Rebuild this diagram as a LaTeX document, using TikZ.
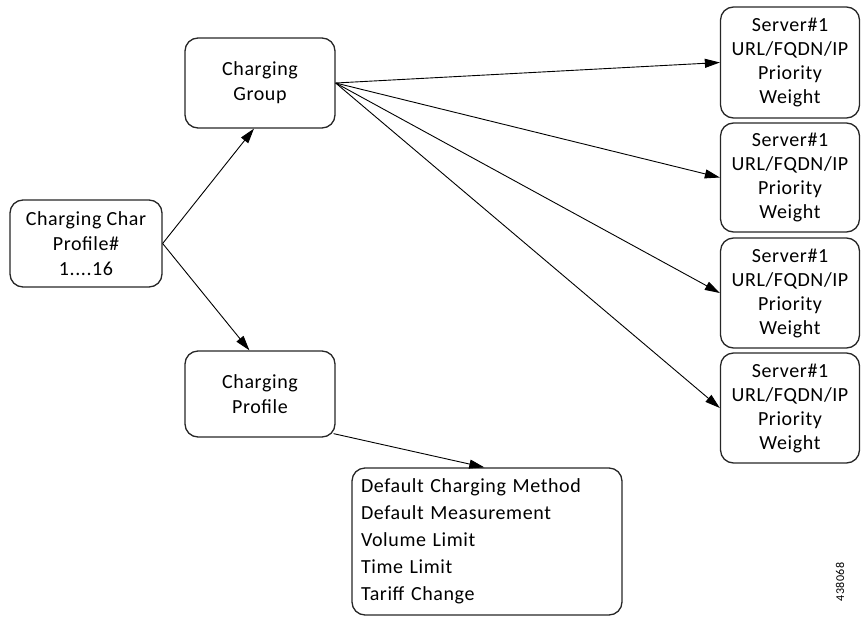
\documentclass[tikz,border=0pt]{standalone}
\usepackage{fontspec}
\setmainfont{Carlito}[LetterSpace=3]
\usetikzlibrary{arrows.meta,calc}
\begin{document}
\begin{tikzpicture}[x=1pt,y=-1pt,
  box/.style={draw=black!85,line width=1.3pt,rounded corners=13pt,align=center,font=\fontsize{20}{25}\selectfont,inner sep=0pt},
  srv/.style={box,minimum width=139pt,font=\fontsize{20}{24}\selectfont},
  conn/.style={draw=black,line width=0.9pt,-{Triangle[length=15pt,width=9pt]}}]
\useasboundingbox (0,0) rectangle (861,618);
\node[box,minimum width=152pt,minimum height=87pt] (char) at (86,243.5) {Charging Char\\Profile\#\\1....16};
\node[box,minimum width=150pt,minimum height=90pt] (group) at (260,83) {Charging\\Group};
\node[box,minimum width=150pt,minimum height=86pt] (profile) at (260,394) {Charging\\Profile};
\node[srv,minimum height=111pt] (s1) at (790,62.5) {Server\#1\\URL/FQDN/IP\\Priority\\Weight};
\node[srv,minimum height=109pt] (s2) at (790,177.5) {Server\#1\\URL/FQDN/IP\\Priority\\Weight};
\node[srv,minimum height=110pt] (s3) at (790,293) {Server\#1\\URL/FQDN/IP\\Priority\\Weight};
\node[srv,minimum height=110pt] (s4) at (790,408) {Server\#1\\URL/FQDN/IP\\Priority\\Weight};
\node[box,minimum width=270pt,minimum height=147pt,align=left,text width=252pt,font=\fontsize{20}{27}\selectfont] (dflt) at (487,541.5) {Default Charging Method\\Default Measurement\\Volume Limit\\Time Limit\\Tariff Change};
\node[rotate=90,font=\fontsize{12}{14}\selectfont] (id) at (840,582) {438068};
\draw[conn] (char.east) -- ($(group.south west)!0.46!(group.south east)$);
\draw[conn] (char.east) -- ($(profile.north west)!0.43!(profile.north east)$);
\draw[conn] (group.east) -- (s1.west);
\draw[conn] (group.east) -- (s2.west);
\draw[conn] (group.east) -- (s3.west);
\draw[conn] (group.east) -- (s4.west);
\draw[conn] ($(profile.south east)+(-2,-4)$) -- ($(dflt.north west)!0.49!(dflt.north east)$);
\end{tikzpicture}
\end{document}
